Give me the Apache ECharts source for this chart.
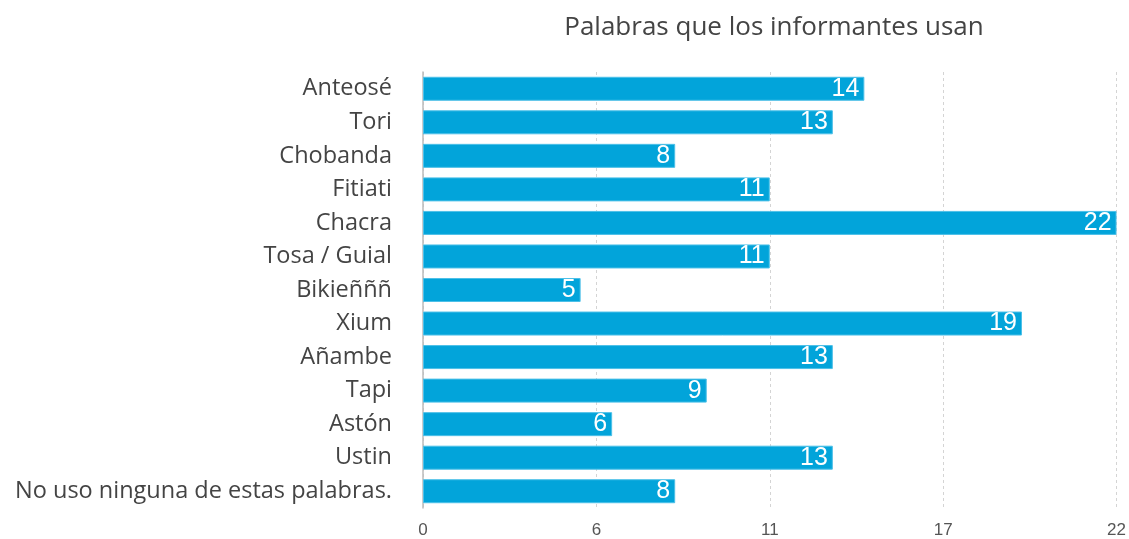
<!DOCTYPE html>
<html>
<head>
<meta charset="utf-8">
<script src="https://cdn.jsdelivr.net/npm/echarts@6/dist/echarts.min.js"></script>
<style>
  html, body { margin: 0; padding: 0; background: #fff; }
  #chart { width: 1129px; height: 539px; }
</style>
</head>
<body>
<div id="chart"></div>
<script>
const categories = [
  'Anteosé', 'Tori', 'Chobanda', 'Fitiati', 'Chacra', 'Tosa / Guial',
  'Bikieñññ', 'Xium', 'Añambe', 'Tapi', 'Astón', 'Ustin',
  'No uso ninguna de estas palabras.'
]
const values = [14, 13, 8, 11, 22, 11, 5, 19, 13, 9, 6, 13, 8]
const titleText = 'Palabras que los informantes usan'

const chart = echarts.init(document.getElementById('chart'))
chart.setOption({
  animation: false,
  title: {
    text: titleText,
    left: 769,
    top: 10,
    textAlign: 'center',
    textStyle: {
      fontFamily: 'Open Sans',
      fontWeight: 'normal',
      fontSize: 26,
      color: '#444'
    }
  },
  grid: { left: 423, right: 12, top: 72, bottom: 30 },
  xAxis: {
    type: 'value',
    min: 0,
    max: 22,
    interval: 5.5,
    axisLine: { show: false },
    axisTick: { show: false },
    axisLabel: {
      color: '#555',
      fontSize: 17,
      fontFamily: 'Liberation Sans',
      margin: 14,
      formatter: v => Math.round(v)
    },
    splitLine: {
      show: true,
      lineStyle: { color: '#d4d4d4', type: [3, 3], width: 1 }
    }
  },
  yAxis: {
    type: 'category',
    inverse: true,
    data: categories,
    axisLine: { show: true, lineStyle: { color: '#bbb', width: 1.5 } },
    axisTick: { show: false },
    axisLabel: {
      color: '#444',
      fontSize: 23.5,
      fontFamily: 'Open Sans',
      margin: 31
    }
  },
  series: [{
    type: 'bar',
    data: values,
    barWidth: 24,
    itemStyle: { color: '#02a4da', borderColor: '#4cc0e8', borderWidth: 1 },
    label: {
      show: true,
      position: 'insideRight',
      color: '#fff',
      fontSize: 25,
      fontFamily: 'Liberation Sans',
      distance: 5
    }
  }]
})
</script>
</body>
</html>
